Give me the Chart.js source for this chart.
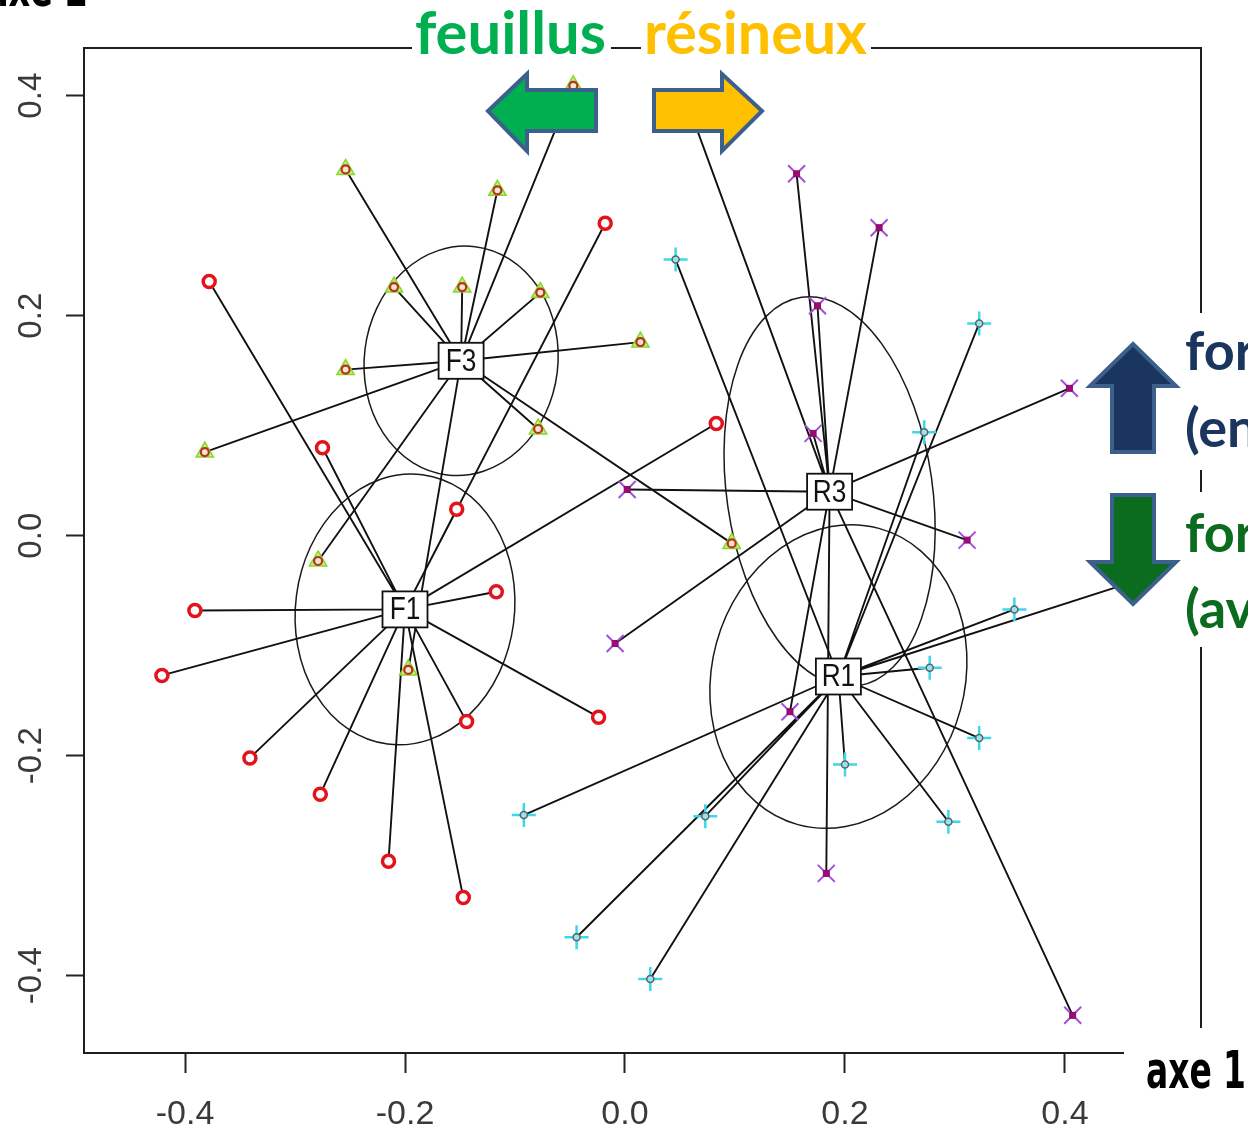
<!DOCTYPE html>
<html>
<head>
<meta charset="utf-8">
<script src="https://cdn.jsdelivr.net/npm/chart.js@4.4.0/dist/chart.umd.min.js"></script>
<style>
html,body{margin:0;padding:0;background:#fff;}
#wrap{width:1248px;height:1131px;position:relative;}
</style>
</head>
<body>
<div id="wrap"><canvas id="c"></canvas></div>
<script>
// ---------- DATA ----------
const groupNames = ['F1', 'F3', 'R1', 'R3'];

// F1 : red circles
const f1X = [-0.378, -0.275, -0.153, -0.018, 0.083, -0.117, -0.391, -0.421, -0.341, -0.277, -0.215, -0.144, -0.147, -0.024];
const f1Y = [0.231, 0.080, 0.024, 0.284, 0.102, -0.051, -0.068, -0.127, -0.202, -0.235, -0.296, -0.169, -0.329, -0.165];

// F3 : green triangles
const f3X = [-0.047, -0.254, -0.116, -0.210, -0.148, -0.077, 0.014, -0.254, -0.382, -0.079, 0.097, -0.279, -0.197];
const f3Y = [0.409, 0.333, 0.314, 0.226, 0.226, 0.221, 0.176, 0.151, 0.076, 0.097, -0.007, -0.023, -0.122];

// R1 : cyan crosses
const r1X = [0.046, 0.322, 0.272, 0.354, 0.277, 0.322, 0.294, 0.200, 0.073, -0.092, -0.044, 0.023, 0.471];
const r1Y = [0.251, 0.193, 0.094, -0.067, -0.120, -0.184, -0.260, -0.208, -0.255, -0.254, -0.365, -0.403, -0.039];

// R3 : purple x
const r3X = [0.156, 0.231, 0.175, 0.171, 0.404, 0.311, 0.002, -0.009, 0.150, 0.183, 0.407, 0.056];
const r3Y = [0.329, 0.280, 0.209, 0.093, 0.134, -0.004, 0.042, -0.098, -0.160, -0.307, -0.436, 0.395];

// class centres (F1, F3, R1, R3)
const centreX = [-0.200, -0.149, 0.194, 0.186];
const centreY = [-0.067, 0.159, -0.128, 0.040];

// class ellipses (F1, F3, R1, R3): half axes and angle of major axis (degrees)
const ellipseMajor = [0.1235, 0.1045, 0.1396, 0.1785];
const ellipseMinor = [0.0995, 0.0880, 0.1150, 0.0935];
const ellipseAngle = [82.6, 83.0, 74.7, 98.2];

const xTickValues = [-0.4, -0.2, 0.0, 0.2, 0.4];
const xTickLabels = ['-0.4', '-0.2', '0.0', '0.2', '0.4'];
const yTickValues = [-0.4, -0.2, 0.0, 0.2, 0.4];
const yTickLabels = ['-0.4', '-0.2', '0.0', '0.2', '0.4'];

const xAxisName = 'axe 1';
const yAxisName = 'axe 2';
const leftTitle = 'feuillus';
const rightTitle = 'résineux';
const upLabel = ['for', '(en'];
const downLabel = ['for', '(av'];

// ---------- BUILD ----------
const groupX = [f1X, f3X, r1X, r3X];
const groupY = [f1Y, f3Y, r1Y, r3Y];

function pts(xs, ys) { return xs.map((v, i) => ({x: v, y: ys[i]})); }
function star(g) {
  const out = [];
  groupX[g].forEach((v, i) => {
    out.push({x: centreX[g], y: centreY[g]});
    out.push({x: v, y: groupY[g][i]});
    out.push({x: null, y: null});
  });
  return out;
}

const NARROW = "'Liberation Sans Narrow', 'DejaVu Sans Condensed', 'Arial Narrow', sans-serif";
const SANS = "'Liberation Sans', Arial, sans-serif";
const CAL = "Lato, 'Open Sans', sans-serif";

const lineDatasets = [0, 1, 2, 3].map(g => ({
  type: 'line', data: star(g), showLine: true, spanGaps: false,
  borderColor: '#111111', borderWidth: 1.9, pointRadius: 0, order: 10
}));

const markerDatasets = [
  {data: pts(f1X, f1Y), pointStyle: 'circle', pointRadius: 6, pointBorderWidth: 3.5,
   pointBorderColor: '#e3121b', pointBackgroundColor: '#ffffff', showLine: false, order: 1},
  {data: pts(f3X, f3Y), pointStyle: 'triangle', pointRadius: 10, pointBorderWidth: 1.5,
   pointBorderColor: '#86d630', pointBackgroundColor: 'rgba(196,238,110,0.9)', showLine: false, order: 2},
  {data: pts(f3X, f3Y), pointStyle: 'circle', pointRadius: 4, pointBorderWidth: 2.2,
   pointBorderColor: '#b8321e', pointBackgroundColor: '#f4e6d0', showLine: false, order: 1},
  {data: pts(r1X, r1Y), pointStyle: 'cross', pointRadius: 12, pointBorderWidth: 2.5,
   pointBorderColor: '#3cd8ea', pointBackgroundColor: '#3cd8ea', showLine: false, order: 2},
  {data: pts(r1X, r1Y), pointStyle: 'circle', pointRadius: 3.5, pointBorderWidth: 1.5,
   pointBorderColor: '#4a6a70', pointBackgroundColor: '#a8dde2', showLine: false, order: 1},
  {data: pts(r3X, r3Y), pointStyle: 'crossRot', pointRadius: 12, pointBorderWidth: 2,
   pointBorderColor: '#a34fdc', pointBackgroundColor: '#a34fdc', showLine: false, order: 2},
  {data: pts(r3X, r3Y), pointStyle: 'rect', pointRadius: 4.2, pointBorderWidth: 1,
   pointBorderColor: '#8a0c6a', pointBackgroundColor: '#9c0a73', showLine: false, order: 1}
];

function poly(ctx, p, fill, stroke) {
  ctx.beginPath();
  ctx.moveTo(p[0][0], p[0][1]);
  for (let i = 1; i < p.length; i++) ctx.lineTo(p[i][0], p[i][1]);
  ctx.closePath();
  ctx.fillStyle = fill; ctx.fill();
  ctx.lineWidth = 4; ctx.lineJoin = 'miter'; ctx.strokeStyle = stroke; ctx.stroke();
}
function fitText(ctx, txt, x, base, w, font, color) {
  ctx.save();
  ctx.font = font;
  const m = ctx.measureText(txt).width;
  ctx.translate(x, base);
  if (w) ctx.scale(w / m, 1);
  ctx.fillStyle = color;
  ctx.textAlign = 'left'; ctx.textBaseline = 'alphabetic';
  ctx.fillText(txt, 0, 0);
  ctx.restore();
}

const overlay = {
  id: 'overlay',
  beforeDatasetsDraw(chart) {
    const {ctx, scales: {x, y}} = chart;
    const k = x.getPixelForValue(1) - x.getPixelForValue(0);
    ctx.save();
    ctx.strokeStyle = '#1a1a1a'; ctx.lineWidth = 1.5;
    for (let g = 0; g < groupNames.length; g++) {
      ctx.beginPath();
      ctx.ellipse(x.getPixelForValue(centreX[g]), y.getPixelForValue(centreY[g]),
        ellipseMajor[g] * k, ellipseMinor[g] * k, -ellipseAngle[g] * Math.PI / 180, 0, 2 * Math.PI);
      ctx.stroke();
    }
    ctx.restore();
  },
  afterDatasetsDraw(chart) {
    const {ctx, scales: {x, y}} = chart;
    ctx.save();
    for (let g = 0; g < groupNames.length; g++) {
      const px = x.getPixelForValue(centreX[g]), py = y.getPixelForValue(centreY[g]);
      const w = 45, h = 36;
      ctx.fillStyle = '#fff'; ctx.fillRect(px - w / 2, py - h / 2, w, h);
      ctx.strokeStyle = '#111'; ctx.lineWidth = 1.8; ctx.strokeRect(px - w / 2, py - h / 2, w, h);
      ctx.save();
      ctx.translate(px, py + 1);
      ctx.scale(0.82, 1);
      ctx.font = '32px ' + SANS;
      ctx.textAlign = 'center'; ctx.textBaseline = 'middle';
      ctx.fillStyle = '#111'; ctx.fillText(groupNames[g], 0, 0);
      ctx.restore();
    }
    ctx.restore();
  },
  afterDraw(chart) {
    const {ctx, chartArea: a} = chart;
    ctx.save();
    // frame
    ctx.strokeStyle = '#1e1e1e'; ctx.lineWidth = 2;
    ctx.strokeRect(a.left, a.top, a.right - a.left, a.bottom - a.top);
    // white boxes behind annotations
    ctx.fillStyle = '#fff';
    ctx.fillRect(412, 0, 199, 62);
    ctx.fillRect(641, 0, 230, 62);
    ctx.fillRect(1180, 313, 68, 157);
    ctx.fillRect(1180, 492, 68, 155);
    ctx.fillRect(1124, 1028, 124, 103);
    // arrows
    const edge = '#3d5f8c';
    poly(ctx, [[488,111],[527,74],[527,90],[596,90],[596,131],[527,131],[527,151]], '#00b050', edge);
    poly(ctx, [[762,111],[722,74],[722,90],[654,90],[654,131],[722,131],[722,151]], '#ffc000', edge);
    poly(ctx, [[1133,344],[1176,386],[1154,386],[1154,452],[1112,452],[1112,386],[1090,386]], '#1b365e', edge);
    poly(ctx, [[1133,604],[1176,562],[1154,562],[1154,495],[1112,495],[1112,562],[1090,562]], '#0b6b1f', edge);
    // titles
    fitText(ctx, leftTitle, 415, 54, 191, 'bold 60px ' + CAL, '#00b050');
    fitText(ctx, rightTitle, 644, 54, 223, 'bold 60px ' + CAL, '#ffc000');
    fitText(ctx, upLabel[0], 1185, 370, 0, 'bold 54px ' + CAL, '#1b365e');
    fitText(ctx, upLabel[1], 1185, 447, 0, 'bold 54px ' + CAL, '#1b365e');
    fitText(ctx, downLabel[0], 1185, 552, 0, 'bold 54px ' + CAL, '#0b6b1f');
    fitText(ctx, downLabel[1], 1185, 628, 0, 'bold 54px ' + CAL, '#0b6b1f');
    fitText(ctx, xAxisName, 1146, 1088, 100, 'bold 52px ' + NARROW, '#000');
    fitText(ctx, yAxisName, -14, 6, 102, 'bold 52px ' + NARROW, '#000');
    ctx.restore();
  }
};

new Chart(document.getElementById('c'), {
  type: 'scatter',
  data: {datasets: [...markerDatasets, ...lineDatasets]},
  options: {
    responsive: true, maintainAspectRatio: false, animation: false,
    layout: {padding: {top: 48, right: 47, left: 0, bottom: 0}},
    plugins: {legend: {display: false}, tooltip: {enabled: false}},
    scales: {
      x: {
        type: 'linear', position: 'bottom', min: -0.49182, max: 0.52364,
        afterBuildTicks: s => { s.ticks = xTickValues.map(v => ({value: v})); },
        afterFit: s => { s.height = 78; },
        ticks: {autoSkip: false, padding: 21, color: '#3a3a3a', font: {family: SANS, size: 34},
                callback: (v, i) => xTickLabels[i]},
        grid: {drawOnChartArea: false, drawTicks: true, tickLength: 20, tickWidth: 2, tickColor: '#222'},
        border: {display: true, color: '#1e1e1e', width: 2}
      },
      y: {
        type: 'linear', position: 'left', min: -0.47027, max: 0.44336,
        afterBuildTicks: s => { s.ticks = yTickValues.map(v => ({value: v})); },
        afterFit: s => { s.width = 84; },
        ticks: {autoSkip: false, padding: 6, minRotation: 90, maxRotation: 90, crossAlign: 'center',
                color: '#3a3a3a', font: {family: SANS, size: 33},
                callback: (v, i) => yTickLabels[i]},
        grid: {drawOnChartArea: false, drawTicks: true, tickLength: 18, tickWidth: 2, tickColor: '#222'},
        border: {display: true, color: '#1e1e1e', width: 2}
      }
    }
  },
  plugins: [overlay]
});
</script>
</body>
</html>
